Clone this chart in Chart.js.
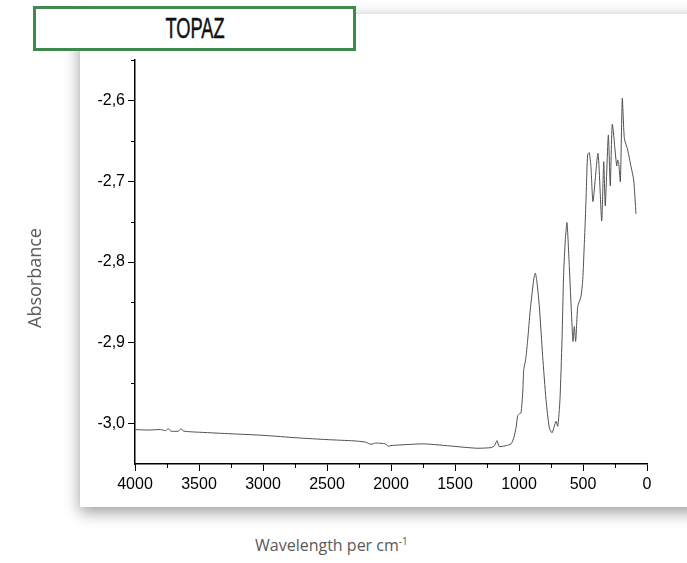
<!DOCTYPE html>
<html>
<head>
<meta charset="utf-8">
<script src="https://cdn.jsdelivr.net/npm/chart.js@4.4.1/dist/chart.umd.min.js"></script>
<style>
  html, body { margin: 0; padding: 0; background: #fff; overflow: hidden; }
  #wrap { position: relative; width: 687px; height: 563px; overflow: hidden; }
  #panel {
    position: absolute; left: 80px; top: 14px; width: 660px; height: 493px;
    background: #fff; box-shadow: 0 5px 15px rgba(0,0,0,0.4);
  }
  #title {
    position: absolute; left: 33px; top: 6px; width: 317px; height: 39px;
    border: 3px solid #3e8a4e; background: #fff; text-align: center;
    z-index: 3;
  }
  #title span {
    display: inline-block; font-family: "Liberation Sans", Arial, sans-serif;
    font-size: 29px; line-height: 39px; color: #111; transform: scaleX(0.63);
    -webkit-text-stroke: 0.5px #111;
  }
  #xbox {
    position: absolute; left: 237px; top: 528px; width: 298px; height: 40px;
    background: #fff; z-index: 2;
  }
  #xlabel {
    position: absolute; left: 255px; top: 534px; z-index: 3;
    font-family: "Open Sans", sans-serif; font-size: 16px; color: #595959;
  }
  #xlabel sup { font-size: 10px; vertical-align: 6px; line-height: 0; }
  #ylabel {
    position: absolute; left: 34px; top: 278px; z-index: 3;
    font-family: "Open Sans", sans-serif; font-size: 18px; color: #595959;
    transform: translate(-50%, -50%) rotate(-90deg); white-space: nowrap;
  }
  canvas { position: absolute; left: 0; top: 0; z-index: 1; }
</style>
</head>
<body>
<div id="wrap">
  <div id="panel"></div>
  <div id="title"><span>TOPAZ</span></div>
  <div id="xbox"></div>
  <div id="xlabel">Wavelength per cm<sup>-1</sup></div>
  <div id="ylabel">Absorbance</div>
  <canvas id="chart" width="687" height="563"></canvas>
</div>
<script>
// spectrum (wavenumber in cm-1, absorbance)
var wavenumbers = [4000, 3900, 3800, 3760, 3740, 3720, 3660, 3640, 3620, 3484, 3250, 3000, 2727, 2500,
  2289, 2200, 2156, 2120, 2078, 2040, 2023, 2000, 1950, 1742, 1508, 1400, 1320, 1219, 1190, 1172,
  1156, 1141, 1100, 1062, 1040, 1023, 1010, 995, 984, 971, 963, 953, 945, 932, 912, 890, 880, 872,
  860, 841, 815, 789, 763, 742, 724, 711, 697, 680, 664, 651, 638, 625, 607, 589, 578, 568, 557,
  541, 516, 502, 490, 482, 474, 464, 451, 438, 422, 383, 354, 338, 326, 302, 287, 271, 237, 229,
  221, 208, 193, 177, 151, 125, 104, 86];
var absorbance = [-3.0074, -3.0080, -3.0074, -3.0087, -3.0062, -3.0093, -3.0093, -3.0062, -3.0093,
  -3.0108, -3.0126, -3.0145, -3.0177, -3.0198, -3.0214, -3.0229, -3.0256, -3.0241, -3.0244, -3.0254,
  -3.0281, -3.0272, -3.0266, -3.0251, -3.0281, -3.0297, -3.0305, -3.0297, -3.0272, -3.0210, -3.0281,
  -3.0284, -3.0272, -3.0251, -3.0173, -3.0049, -2.9901, -2.9876, -2.9868, -2.9621, -2.9333, -2.9250,
  -2.9168, -2.8962, -2.8591, -2.8282, -2.8171, -2.8137, -2.8245, -2.8550, -2.9168, -2.9703, -3.0053,
  -3.0115, -3.0033, -2.9972, -3.0033, -2.9703, -2.8962, -2.8133, -2.7726, -2.7512, -2.8056, -2.8674,
  -2.8983, -2.8798, -2.8983, -2.8550, -2.8430, -2.8220, -2.7787, -2.7478, -2.7107, -2.6675, -2.6646,
  -2.6819, -2.7252, -2.6654, -2.7491, -2.6758, -2.7305, -2.6428, -2.7058, -2.6295, -2.6811, -2.6737,
  -2.6778, -2.7005, -2.5974, -2.6469, -2.6613, -2.6819, -2.6984, -2.7404];

var xTicks = [4000, 3500, 3000, 2500, 2000, 1500, 1000, 500, 0];
var xMinorTicks = [3750, 3250, 2750, 2250, 1750, 1250, 750, 250];
var yTicks = [-3.0, -2.9, -2.8, -2.7, -2.6];
var yMinorTicks = [-2.95, -2.85, -2.75, -2.65, -2.55];

// short minor ticks, drawn through the scales
const minorTicks = {
  id: 'minorTicks',
  afterDraw(chart) {
    const { ctx, chartArea, scales } = chart;
    ctx.save();
    ctx.strokeStyle = '#000';
    ctx.lineWidth = 1;
    ctx.beginPath();
    xMinorTicks.forEach(v => {
      const px = Math.round(scales.x.getPixelForValue(v)) + 0.5;
      ctx.moveTo(px, chartArea.bottom);
      ctx.lineTo(px, chartArea.bottom + 4);
    });
    yMinorTicks.forEach(v => {
      const py = Math.round(scales.y.getPixelForValue(v)) + 0.5;
      ctx.moveTo(chartArea.left, py);
      ctx.lineTo(chartArea.left - 4, py);
    });
    ctx.stroke();
    ctx.restore();
  }
};

const tickFont = { family: '"Liberation Sans", Arial, sans-serif', size: 16 };

new Chart(document.getElementById('chart'), {
  type: 'line',
  data: {
    datasets: [{
      data: wavenumbers.map((w, i) => ({ x: w, y: absorbance[i] })),
      borderColor: '#505050',
      borderWidth: 1,
      pointRadius: 0,
      tension: 0.2,
      fill: false
    }]
  },
  options: {
    responsive: false,
    animation: false,
    devicePixelRatio: 1,
    layout: { padding: { left: 80, right: 40, top: 60, bottom: 59 } },
    plugins: { legend: { display: false }, tooltip: { enabled: false } },
    scales: {
      x: {
        type: 'linear', reverse: true, min: 0, max: 4000,
        afterBuildTicks: s => { s.ticks = xTicks.map(v => ({ value: v })); },
        afterFit: s => { s.height = 40; },
        grid: { drawOnChartArea: false, drawTicks: true, tickLength: 7, tickColor: '#000' },
        border: { display: true, color: '#000', width: 1.5 },
        ticks: { font: tickFont, color: '#000', padding: 4, maxRotation: 0, autoSkip: false,
                 callback: v => String(v) }
      },
      y: {
        type: 'linear', min: -3.05, max: -2.55,
        afterBuildTicks: s => { s.ticks = yTicks.map(v => ({ value: v })); },
        afterFit: s => { s.width = 55; },
        grid: { drawOnChartArea: false, drawTicks: true, tickLength: 7, tickColor: '#000' },
        border: { display: true, color: '#000', width: 1.5 },
        ticks: { font: tickFont, color: '#000', padding: 3, autoSkip: false,
                 callback: v => v.toFixed(1).replace('.', ',') }
      }
    }
  },
  plugins: [minorTicks]
});
</script>
</body>
</html>
